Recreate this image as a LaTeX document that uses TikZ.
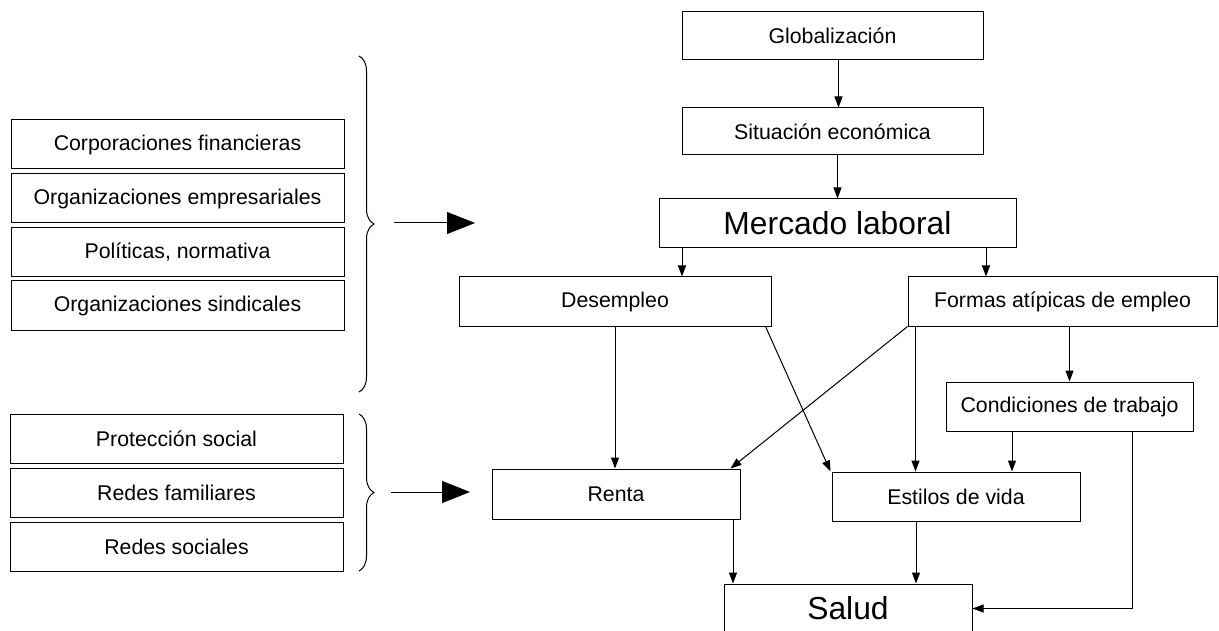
\documentclass[tikz,border=0pt]{standalone}
\usepackage{fontspec}
\setmainfont{Liberation Sans}
\usetikzlibrary{arrows.meta,decorations.pathreplacing}

\begin{document}
\begin{tikzpicture}[x=1pt, y=-1pt, line width=1pt,
    every node/.style={draw, rectangle, inner sep=0pt, minimum height=49pt, font=\fontsize{21.3}{25}\selectfont},
    big/.style={font=\fontsize{31.8}{36}\selectfont},
    arr/.style={-{Triangle[length=11pt,width=8pt]}},
    bigarr/.style={-{Triangle[length=28pt,width=22pt]}},
    curly/.style={decorate, decoration={brace, amplitude=15pt}}]

    \useasboundingbox (0,0) rectangle (1219,631);

    \node[minimum width=333pt] (corp) at (177.5,144.5) {Corporaciones financieras};
    \node[minimum width=333pt] (emp) at (177.5,198.5) {Organizaciones empresariales};
    \node[minimum width=333pt] (pol) at (177.5,252.5) {Políticas, normativa};
    \node[minimum width=333pt] (sind) at (177.5,305.5) {Organizaciones sindicales};

    \node[minimum width=333pt] (prot) at (176.5,438.5) {Protección social};
    \node[minimum width=333pt] (fam) at (176.5,492.5) {Redes familiares};
    \node[minimum width=333pt] (soc) at (176.5,546.5) {Redes sociales};

    \node[minimum width=301pt, minimum height=48pt] (glob) at (832.5,36) {Globalización};
    \node[minimum width=301pt, minimum height=47pt] (sit) at (832.5,131.5) {Situación económica};
    \node[big, minimum width=357pt] (merc) at (837.5,223.5) {Mercado laboral};
    \node[minimum width=312pt] (desem) at (615,301.5) {Desempleo};
    \node[minimum width=309pt] (formas) at (1062.5,301.5) {Formas atípicas de empleo};
    \node[minimum width=247pt] (cond) at (1069.5,406.5) {Condiciones de trabajo};
    \node[minimum width=248pt, minimum height=50pt] (renta) at (616,494) {Renta};
    \node[minimum width=248pt] (estilos) at (956,496.5) {Estilos de vida};
    \node[big, minimum width=248pt] (salud) at (848,608.5) {Salud};

    \coordinate (b1t) at (359,56);
    \coordinate (b1b) at (359,392);
    \coordinate (b2t) at (359,414);
    \coordinate (b2b) at (359,571);
    \coordinate (a1s) at (394,223);
    \coordinate (a1e) at (475,223);
    \coordinate (a2s) at (391,492);
    \coordinate (a2e) at (470,492);

    \draw[curly] (b1t) -- (b1b);
    \draw[curly] (b2t) -- (b2b);
    \draw[bigarr] (a1s) -- (a1e);
    \draw[bigarr] (a2s) -- (a2e);

    \draw[arr] ([xshift=6pt]glob.south) -- ([xshift=6pt]sit.north);
    \draw[arr] (sit.south -| merc.north) -- (merc.north);
    \draw[arr] ([xshift=-155.5pt]merc.south) -- ([xshift=67pt]desem.north);
    \draw[arr] ([xshift=148.5pt]merc.south) -- ([xshift=-76.5pt]formas.north);

    \draw[arr] (desem.south) -- (desem.south |- renta.north);
    \draw[arr] ([xshift=-6pt]desem.south east) -- ([xshift=-1pt]estilos.north west);
    \draw[arr] (formas.south west) -- ([xshift=-10pt]renta.north east);
    \draw[arr] ([xshift=8pt]formas.south west) -- ([xshift=8pt]formas.south west |- estilos.north);
    \draw[arr] (formas.south -| cond.north) -- (cond.north);

    \draw[arr] ([xshift=-57.5pt]cond.south) -- ([xshift=-57.5pt]cond.south |- estilos.north);
    \draw[arr] ([xshift=62.5pt]cond.south) |- (salud.east);
    \draw[arr] ([xshift=117pt]renta.south) -- ([xshift=117pt]renta.south |- salud.north);
    \draw[arr] ([xshift=-40pt]estilos.south) -- ([xshift=-40pt]estilos.south |- salud.north);
\end{tikzpicture}
\end{document}
